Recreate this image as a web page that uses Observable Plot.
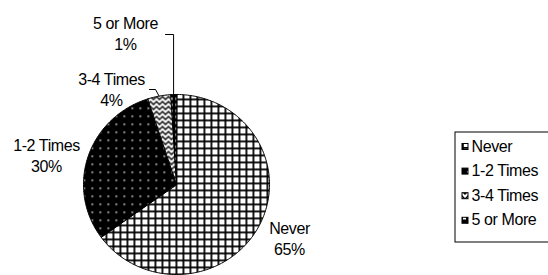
<!DOCTYPE html>
<html><head><meta charset="utf-8">
<script src="https://cdn.jsdelivr.net/npm/d3@7"></script>
<script src="https://cdn.jsdelivr.net/npm/@observablehq/plot@0.6"></script>
<style>
html,body{margin:0;padding:0;background:#fff;}
#chart{width:548px;height:275px;overflow:hidden;}
</style></head><body><div id="chart"></div>
<script>
// ---- data ----
const categories = ["Never", "1-2 Times", "3-4 Times", "5 or More"];
const values = [65, 30, 4, 1];
const pctLabels = ["65%", "30%", "4%", "1%"];

// ---- layout (pixels) ----
const W = 548, H = 275;
const cx = 176, cy = 184, rx = 93, ry = 90;
const ux = px => (px - cx) / rx;
const uy = py => (cy - py) / ry;
const FONT = "'Liberation Sans', Arial, sans-serif";
const patternIds = ["pGrid", "pDots", "pZig", "pBricks"];
// label centre x and first-line baseline (px)
const labelAt = [[289, 232], [46, 149], [111, 83], [125, 27]];
const labelFS = 16, labelLH = 1.3;

const pie = d3.pie().sort(null).value(d => d.value)(
  categories.map((c, i) => ({category: c, value: values[i], i})));
const slices = pie.map(s => {
  const pts = [{x: 0, y: 0}];
  const n = Math.max(3, Math.ceil((s.endAngle - s.startAngle) / (Math.PI / 180)));
  for (let k = 0; k <= n; k++) {
    const a = s.startAngle + (s.endAngle - s.startAngle) * k / n;
    pts.push({x: Math.sin(a), y: Math.cos(a)});
  }
  return {i: s.data.i, pts, mid: (s.startAngle + s.endAngle) / 2};
});

const labels = categories.map((c, i) => ({
  text: c + "\n" + pctLabels[i],
  x: ux(labelAt[i][0]),
  y: uy(labelAt[i][1] - 0.32 * labelFS + 0.5 * labelLH * labelFS)
}));

// leader lines for the two small slices
function leader(i, fromPx, elbowPx) {
  const s = slices[i];
  const ex = Math.sin(s.mid), ey = Math.cos(s.mid);
  return [
    {x: ux(fromPx[0]), y: uy(fromPx[1])},
    {x: elbowPx == null ? ex : ux(elbowPx[0]), y: uy(fromPx[1])},
    {x: ex, y: ey}
  ];
}
const leaders = [leader(3, [165, 34]), leader(2, [149, 89], [155, 89])];

const legendRows = categories.map((c, i) => ({c, i, yb: 151 + i * 24.6}));
const legFS = 16;

const marks = [];
slices.forEach(s => {
  marks.push(Plot.line(s.pts, {x: "x", y: "y", curve: "linear-closed",
    fill: `url(#${patternIds[s.i]})`, stroke: "black", strokeWidth: 1}));
});
leaders.forEach(l => marks.push(Plot.line(l, {x: "x", y: "y", stroke: "black", strokeWidth: 1})));
marks.push(Plot.text(labels, {x: "x", y: "y", text: "text", fontSize: labelFS, lineHeight: labelLH,
  fontFamily: FONT, fill: "black"}));
// legend
marks.push(Plot.rect([0], {x1: () => ux(455), x2: () => ux(600), y1: () => uy(132), y2: () => uy(242),
  fill: "white", stroke: "black", strokeWidth: 1}));
marks.push(Plot.rect(legendRows, {x1: () => ux(462), x2: () => ux(468),
  y1: d => uy(d.yb - 1.5), y2: d => uy(d.yb - 7.5),
  fill: d => `url(#${patternIds[d.i]})`, stroke: "black", strokeWidth: 1}));
marks.push(Plot.text(legendRows, {x: () => ux(471), y: d => uy(d.yb - 0.32 * legFS), text: "c",
  textAnchor: "start", fontSize: legFS, fontFamily: FONT, fill: "black", ariaLabel: "legend-text"}));

const svg = Plot.plot({
  width: W, height: H, margin: 0,
  x: {domain: [-1, 1], range: [cx - rx, cx + rx], axis: null},
  y: {domain: [-1, 1], range: [cy + ry, cy - ry], axis: null},
  color: {type: "identity"},
  style: {background: "white", fontFamily: FONT, letterSpacing: "-0.4px", overflow: "hidden"},
  marks
});
d3.select(svg).selectAll('g[aria-label="legend-text"]').attr("letter-spacing", "0px");

const defs = d3.select(svg).insert("defs", ":first-child");
// grid (Never)
let p = defs.append("pattern").attr("id", "pGrid").attr("patternUnits", "userSpaceOnUse")
  .attr("width", 7).attr("height", 7);
p.append("rect").attr("width", 7).attr("height", 7).attr("fill", "white");
p.append("rect").attr("width", 7).attr("height", 1.8).attr("fill", "black");
p.append("rect").attr("width", 1.8).attr("height", 7).attr("fill", "black");
// dots (1-2 Times)
p = defs.append("pattern").attr("id", "pDots").attr("patternUnits", "userSpaceOnUse")
  .attr("width", 8).attr("height", 8);
p.append("rect").attr("width", 8).attr("height", 8).attr("fill", "black");
p.append("rect").attr("x", 3).attr("y", 3).attr("width", 1.5).attr("height", 1.5).attr("fill", "#eee");
// zigzag (3-4 Times)
p = defs.append("pattern").attr("id", "pZig").attr("patternUnits", "userSpaceOnUse")
  .attr("width", 6).attr("height", 5);
p.append("rect").attr("width", 6).attr("height", 5).attr("fill", "white");
p.append("path").attr("d", "M-1,0 L0,1 L3,4 L6,1 L7,0").attr("fill", "none")
  .attr("stroke", "black").attr("stroke-width", 1.3);
// bricks (5 or More)
p = defs.append("pattern").attr("id", "pBricks").attr("patternUnits", "userSpaceOnUse")
  .attr("width", 6).attr("height", 6);
p.append("rect").attr("width", 6).attr("height", 6).attr("fill", "black");
p.append("rect").attr("x", 1).attr("y", 1).attr("width", 3).attr("height", 2.5).attr("fill", "white");

document.getElementById("chart").appendChild(svg);
</script></body></html>
